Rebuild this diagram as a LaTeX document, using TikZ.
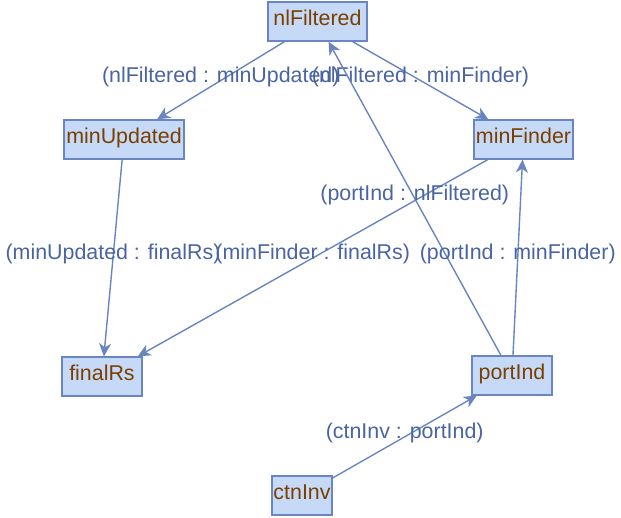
\documentclass[tikz,border=0pt]{standalone}
\usepackage{fontspec}
\setmainfont{Liberation Sans}
\usetikzlibrary{arrows.meta}
\definecolor{boxfill}{HTML}{C6DAF8}
\definecolor{boxdraw}{HTML}{6A85C3}
\definecolor{boxtext}{HTML}{7A3E00}
\definecolor{edgecol}{HTML}{6A84C0}
\definecolor{lblcol}{HTML}{4A64A0}
\begin{document}
\begin{tikzpicture}[x=1pt,y=-1pt,
  box/.style={draw=boxdraw,fill=boxfill,line width=1.3pt,rectangle,inner sep=0pt,
    minimum height=39pt,text height=14pt,text depth=7pt,text=boxtext,
    font=\fontsize{21.4}{24}\selectfont},
  conn/.style={draw=edgecol,line width=1.4pt,-{Stealth[length=13pt,width=12pt,inset=4pt]}},
  lbl/.style={text=lblcol,font=\fontsize{21.4}{24}\selectfont,inner sep=0pt,yshift=4pt}]
\useasboundingbox (0,0) rectangle (621,517);
\node[box,minimum width=99pt] (nlf) at (317.5,21.5) {nlFiltered};
\node[box,minimum width=120pt] (mu) at (124,139.5) {minUpdated};
\node[box,minimum width=99pt] (mf) at (523.5,139.5) {minFinder};
\node[box,minimum width=80pt] (fr) at (102,376.5) {finalRs};
\node[box,minimum width=80pt] (pi) at (512,375.5) {portInd};
\node[box,minimum width=60pt] (ci) at (302,495.5) {ctnInv};
\draw[conn] (nlf) -- node[lbl] (l1) {(nlFiltered : minUpdated)} (mu);
\draw[conn] (nlf) -- node[lbl] (l2) {(nlFiltered : minFinder)} (mf);
\draw[conn] (mu) -- node[lbl] (l3) {(minUpdated : finalRs)} (fr);
\draw[conn] (mf) -- node[lbl] (l4) {(minFinder : finalRs)} (fr);
\draw[conn] (pi) -- node[lbl] (l5) {(portInd : nlFiltered)} (nlf);
\draw[conn] (pi) -- node[lbl] (l6) {(portInd : minFinder)} (mf);
\draw[conn] (ci) -- node[lbl] (l7) {(ctnInv : portInd)} (pi);
\end{tikzpicture}
\end{document}
